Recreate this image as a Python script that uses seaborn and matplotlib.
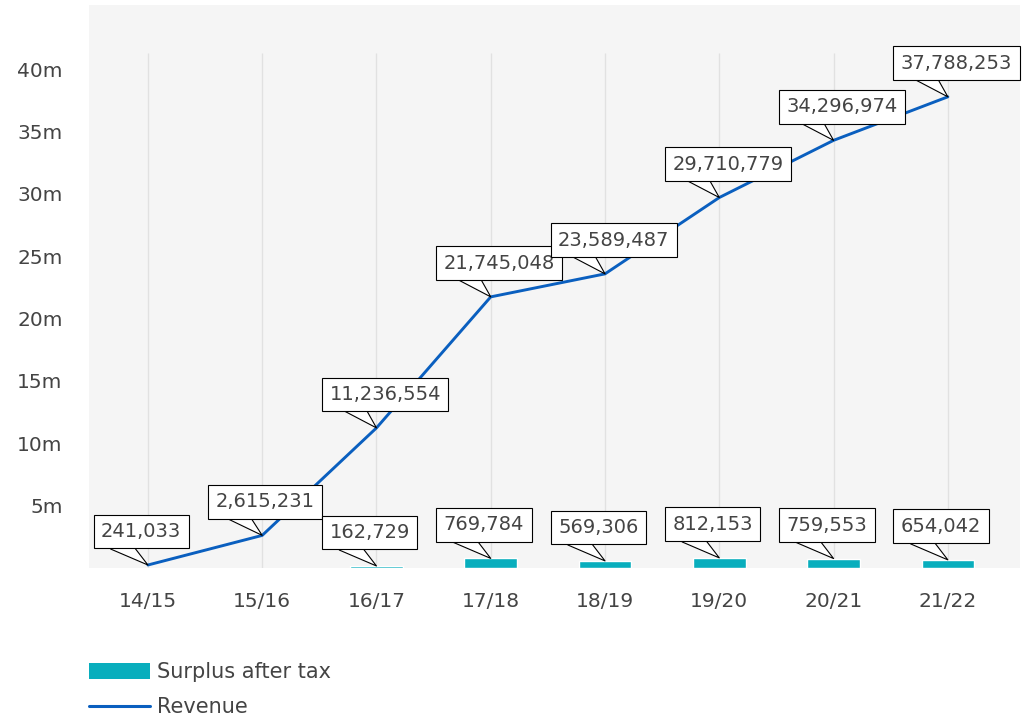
import numpy as np
import pandas as pd
import matplotlib
matplotlib.use("Agg")
import matplotlib.pyplot as plt
import seaborn as sns
from matplotlib.patches import Patch
from matplotlib.lines import Line2D

years = ["14/15", "15/16", "16/17", "17/18", "18/19", "19/20", "20/21", "21/22"]
revenue = [241033, 2615231, 11236554, 21745048, 23589487, 29710779, 34296974, 37788253]
surplus = [np.nan, np.nan, 162729, 769784, 569306, 812153, 759553, 654042]
y_ticks = [5, 10, 15, 20, 25, 30, 35, 40]
y_tick_labels = ["5m", "10m", "15m", "20m", "25m", "30m", "35m", "40m"]

BAR_C = "#08aebd"
LINE_C = "#0a5fbf"
TXT_C = "#444444"

df = pd.DataFrame({"year": years, "pos": np.arange(len(years)),
                   "revenue": np.array(revenue) / 1e6,
                   "surplus": np.array(surplus) / 1e6})

sns.set_style("white")
plt.rcParams["font.family"] = ["DejaVu Sans"]

fig = plt.figure(figsize=(10.26, 7.17), dpi=100)
ax = fig.add_axes([0.0867, 0.2078, 0.9073, 0.7852])
ax.set_facecolor("#f5f5f5")

ax.vlines(df["pos"], 0, 41.3, color="#e1e1e1", lw=1, zorder=0)

sns.barplot(data=df, x="year", y="surplus", order=years, color=BAR_C,
            width=0.46, saturation=1, ax=ax, zorder=2)
sns.lineplot(data=df, x="pos", y="revenue", color=LINE_C, lw=2.1, ax=ax, zorder=3)


def callout(x, y, val):
    ax.annotate(f"{val:,}", xy=(x, y), xycoords="data",
                xytext=(-47, 24), textcoords="offset pixels",
                ha="left", va="bottom", fontsize=14, color=TXT_C, zorder=5,
                bbox=dict(boxstyle="square,pad=0.38", fc="white", ec="black", lw=0.8),
                arrowprops=dict(arrowstyle="wedge,tail_width=1.05", fc="white", ec="black",
                                lw=0.8, shrinkA=0, shrinkB=0, relpos=(0.2, 0),
                                patchA=None))


for i, v in enumerate(revenue):
    callout(i, v / 1e6, v)
for i, v in enumerate(surplus):
    if not np.isnan(v):
        callout(i, v / 1e6, int(v))

ax.set_xlim(-0.516, 7.63)
ax.set_ylim(0, 45.15)
ax.set_yticks(y_ticks)
ax.set_yticklabels(y_tick_labels)
ax.set_xticks(range(len(years)))
ax.set_xticklabels(years)
ax.tick_params(axis="both", length=0, labelsize=14.5, labelcolor=TXT_C)
ax.tick_params(axis="x", pad=17)
ax.tick_params(axis="y", pad=19)
ax.set_xlabel("")
ax.set_ylabel("")
for s in ax.spines.values():
    s.set_visible(False)

handles = [Patch(facecolor=BAR_C, edgecolor="none"),
           Line2D([], [], color=LINE_C, lw=2.2)]
fig.legend(handles, ["Surplus after tax", "Revenue"], loc="upper left",
           bbox_to_anchor=(0.087, 0.077), frameon=False, fontsize=15,
           labelcolor=TXT_C, handlelength=2.9, handleheight=0.8,
           handletextpad=0.35, labelspacing=0.75, borderpad=0, borderaxespad=0)

fig.savefig("out.png", dpi=100)
